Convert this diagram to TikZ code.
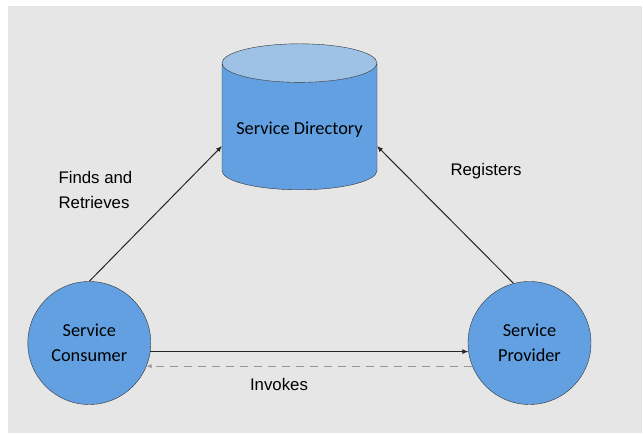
\documentclass[tikz,border=0pt]{standalone}
\usepackage{fontspec}
\setmainfont{Carlito}
\newfontfamily\labelfont{Liberation Sans}
\usetikzlibrary{shapes.geometric,arrows.meta}
\definecolor{svcblue}{RGB}{98,160,226}
\definecolor{svctop}{RGB}{157,194,230}
\definecolor{bggray}{RGB}{230,230,230}
\definecolor{dashgray}{RGB}{150,150,150}
\tikzset{
  svcnode/.style={circle,draw=black!80,fill=svcblue,minimum size=123pt,align=center,
    font=\fontsize{18.3}{25}\selectfont},
  flow/.style={-{Latex[length=6pt,width=5pt]},black!85,line width=1pt},
  reply/.style={-{Latex[length=5pt,width=4pt]},dashgray,line width=0.9pt,dash pattern=on 8pt off 6pt},
  flowlabel/.style={font=\labelfont\fontsize{16.8}{25}\selectfont,align=left},
}
\begin{document}
\begin{tikzpicture}[x=1pt,y=1pt]
  \useasboundingbox (0,0) rectangle (643,435);
  \fill[bggray] (8,2) rectangle (642,429);

  \node[cylinder,shape border rotate=90,aspect=0.29,draw=black!80,anchor=south,
    cylinder uses custom fill,cylinder body fill=svcblue,cylinder end fill=svctop,
    minimum width=155pt,minimum height=146pt,
    font=\fontsize{18.3}{25}\selectfont] (dir) at (299.5,245) {Service Directory};
  \node[svcnode] (consumer) at (89.3,92) {Service\\Consumer};
  \node[svcnode] (provider) at (529.5,92) {Service\\Provider};

  \draw[flow] (consumer.90) -- ([xshift=-77.5pt,yshift=44pt]dir.south);
  \draw[flow] (provider.105.6) -- ([xshift=77.5pt,yshift=44pt]dir.south);
  \draw[flow] (consumer.-8) -- (provider.188);
  \draw[reply] (provider.202.6) -- (consumer.-22.6);

  \node[flowlabel,anchor=west] (finds) at (55,244.5) {Finds and\\Retrieves};
  \node[flowlabel] (registers) at (486,264) {Registers};
  \node[flowlabel] (invokes) at (279,50) {Invokes};
\end{tikzpicture}
\end{document}
